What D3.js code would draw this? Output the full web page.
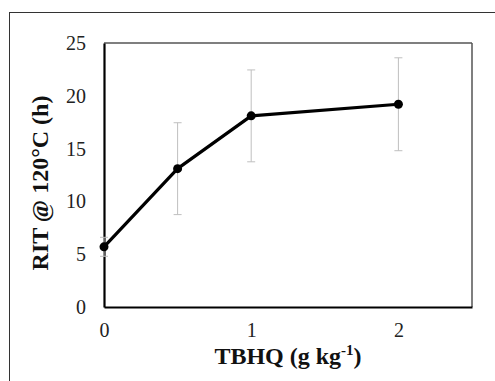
<!DOCTYPE html>
<html>
<head>
<meta charset="utf-8">
<script src="https://cdn.jsdelivr.net/npm/d3@7"></script>
<style>
  body { margin: 0; background: #fff; }
  svg { display: block; }
</style>
</head>
<body>
<div id="chart"></div>
<script>
// values
const tbhq = [0, 0.5, 1, 2];
const rit = [5.7, 13.1, 18.1, 19.2];
const ritErr = [0.9, 4.35, 4.35, 4.4];
const xTicks = [0, 1, 2];
const yTicks = [0, 5, 10, 15, 20, 25];

const width = 495, height = 381;
const margin = {top: 43, right: 22, bottom: 74, left: 104};

const svg = d3.select("#chart").append("svg")
  .attr("width", width)
  .attr("height", height);

// outer frame (runs off the right and bottom)
svg.append("rect")
  .attr("x", 9.5).attr("y", 12.5)
  .attr("width", width).attr("height", height)
  .attr("fill", "none").attr("stroke", "#333").attr("stroke-width", 1);

const x = d3.scaleLinear().domain([0, 2.5]).range([margin.left, width - margin.right - 1]);
const y = d3.scaleLinear().domain([0, 25]).range([height - margin.bottom, margin.top]);

const font = "'Liberation Serif', 'DejaVu Serif', 'Times New Roman', serif";

// plot box: thin grey top/right, heavy black left/bottom
svg.append("line")
  .attr("x1", x(0)).attr("x2", x(2.5)).attr("y1", y(25)).attr("y2", y(25))
  .attr("stroke", "#555").attr("stroke-width", 1.5);
svg.append("line")
  .attr("x1", x(2.5)).attr("x2", x(2.5)).attr("y1", y(25)).attr("y2", y(0))
  .attr("stroke", "#555").attr("stroke-width", 1.5);

// y axis
const yAxis = svg.append("g")
  .attr("transform", `translate(${x(0)},0)`)
  .call(d3.axisLeft(y).tickValues(yTicks).tickSize(0).tickPadding(18))
  .attr("font-family", font).attr("font-size", 20);
yAxis.select(".domain").attr("stroke", "#000").attr("stroke-width", 2.2);
yAxis.selectAll("text").attr("fill", "#222");

// x axis
const xAxis = svg.append("g")
  .attr("transform", `translate(0,${y(0)})`)
  .call(d3.axisBottom(x).tickValues(xTicks).tickFormat(d3.format("d")).tickSize(0).tickPadding(16))
  .attr("font-family", font).attr("font-size", 20);
xAxis.select(".domain").attr("stroke", "#000").attr("stroke-width", 2.2);
xAxis.selectAll("text").attr("fill", "#222");

// error bars
const pts = tbhq.map((d, i) => ({x: d, y: rit[i], e: ritErr[i]}));
const eb = svg.append("g").attr("stroke", "#bfbfbf").attr("stroke-width", 1);
eb.selectAll(".v").data(pts).enter().append("line")
  .attr("x1", d => x(d.x)).attr("x2", d => x(d.x))
  .attr("y1", d => y(d.y + d.e)).attr("y2", d => y(d.y - d.e));
eb.selectAll(".t").data(pts).enter().append("line")
  .attr("x1", d => x(d.x) - 4).attr("x2", d => x(d.x) + 4)
  .attr("y1", d => y(d.y + d.e)).attr("y2", d => y(d.y + d.e));
eb.selectAll(".b").data(pts).enter().append("line")
  .attr("x1", d => x(d.x) - 4).attr("x2", d => x(d.x) + 4)
  .attr("y1", d => y(d.y - d.e)).attr("y2", d => y(d.y - d.e));

// line + markers
svg.append("path")
  .datum(pts)
  .attr("fill", "none").attr("stroke", "#000").attr("stroke-width", 3.2)
  .attr("stroke-linejoin", "round")
  .attr("d", d3.line().x(d => x(d.x)).y(d => y(d.y)));
svg.selectAll(".pt").data(pts).enter().append("circle")
  .attr("cx", d => x(d.x)).attr("cy", d => y(d.y)).attr("r", 4.5)
  .attr("fill", "#000");

// axis titles
const xt = svg.append("text")
  .attr("x", (x(0) + x(2.5)) / 2).attr("y", 364)
  .attr("text-anchor", "middle")
  .attr("font-family", font).attr("font-weight", "bold").attr("font-size", 24)
  .attr("fill", "#111");
xt.append("tspan").text("TBHQ (g kg");
xt.append("tspan").attr("font-size", 15).attr("dy", -9).text("-1");
xt.append("tspan").attr("dy", 9).text(")");

svg.append("text")
  .attr("transform", "translate(48,183) rotate(-90)")
  .attr("text-anchor", "middle")
  .attr("font-family", font).attr("font-weight", "bold").attr("font-size", 24)
  .attr("fill", "#111")
  .text("RIT @ 120°C (h)");
</script>
</body>
</html>
